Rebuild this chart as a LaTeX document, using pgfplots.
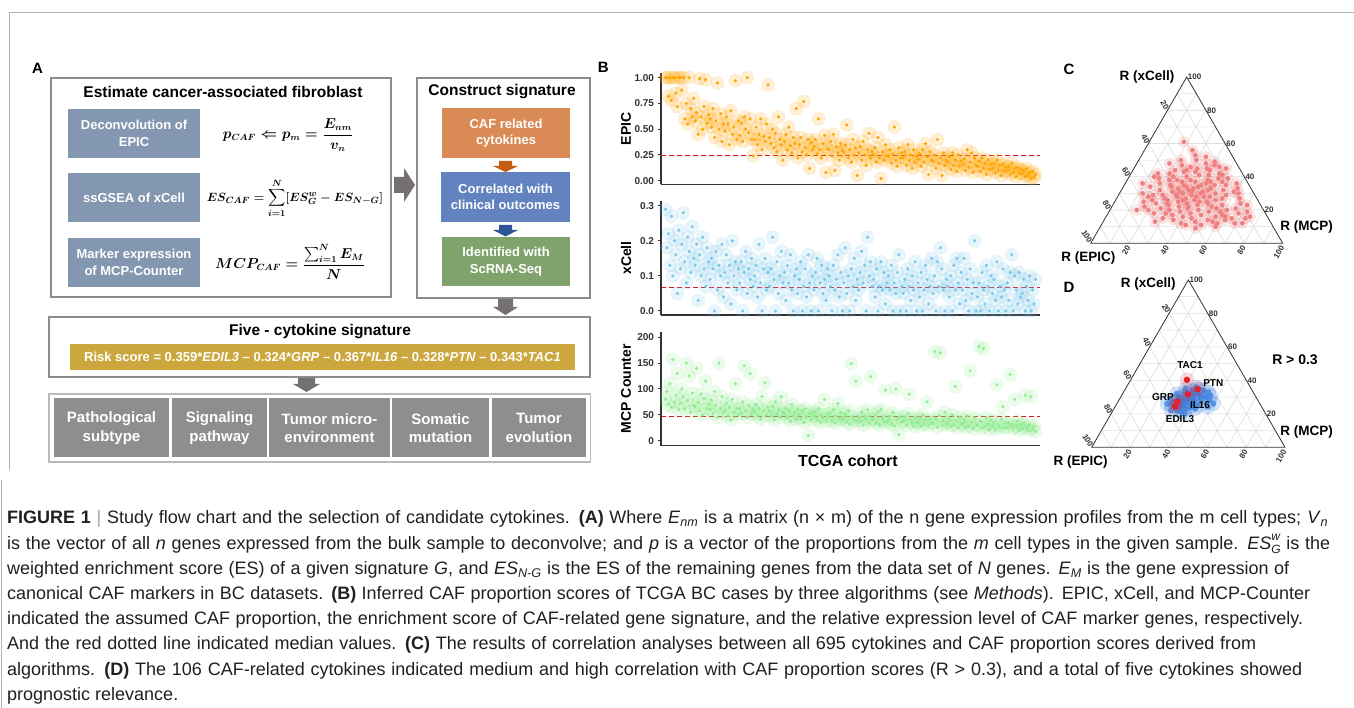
\documentclass[border=0pt]{standalone}
\usepackage{amsmath}
\usepackage{fontspec}
\setmainfont{Liberation Sans}
\usepackage{pgfplots}
\usepackage{pgfplotstable}
\pgfplotsset{compat=1.18}
\newcommand{\fs}[2]{\fontsize{#1}{#2}\selectfont}
\definecolor{axisgray}{RGB}{51,51,51}
\definecolor{boxgray}{RGB}{140,140,140}
\definecolor{slate}{RGB}{132,151,176}
\definecolor{orbox}{RGB}{218,138,85}
\definecolor{orarrow}{RGB}{197,90,17}
\definecolor{blbox}{RGB}{98,131,192}
\definecolor{blarrow}{RGB}{47,85,151}
\definecolor{grbox}{RGB}{127,163,107}
\definecolor{gold}{RGB}{203,167,62}
\definecolor{cellgray}{RGB}{143,141,141}
\definecolor{arrowgray}{RGB}{118,113,113}
\definecolor{epicc}{RGB}{255,165,0}
\definecolor{xcellc}{RGB}{120,200,236}
\definecolor{mcpc}{RGB}{144,238,144}
\definecolor{pinkc}{RGB}{240,128,128}
\definecolor{blued}{RGB}{60,130,225}
\definecolor{redd}{RGB}{232,30,40}
\definecolor{medred}{RGB}{215,25,25}
\definecolor{tgrid}{RGB}{222,222,222}
\definecolor{captxt}{RGB}{35,31,32}

\pgfplotstableread[row sep=\\]{y\\
1\\1\\0.82\\1\\0.78\\1\\1\\0.85\\0.72\\1\\
1\\0.88\\1\\0.6\\0.75\\0.55\\1\\0.7\\0.62\\0.8\\
0.58\\0.66\\0.45\\0.99\\0.62\\0.5\\0.72\\0.98\\0.56\\0.64\\
0.6\\0.52\\0.7\\0.42\\0.58\\0.95\\0.5\\0.65\\0.38\\0.55\\
0.48\\0.62\\0.55\\0.35\\0.68\\0.45\\0.52\\0.97\\0.4\\0.58\\
0.44\\0.56\\0.38\\0.62\\0.5\\1\\0.47\\0.6\\0.4\\0.24\\
0.4\\0.52\\0.35\\0.45\\0.6\\0.3\\0.43\\0.38\\0.55\\0.93\\
0.42\\0.36\\0.5\\0.32\\0.46\\0.28\\0.62\\0.4\\0.35\\0.2\\
0.38\\0.45\\0.3\\0.52\\0.34\\0.27\\0.42\\0.36\\0.7\\0.22\\
0.35\\0.42\\0.28\\0.77\\0.32\\0.25\\0.4\\0.12\\0.37\\0.3\\
0.33\\0.4\\0.26\\0.6\\0.3\\0.22\\0.36\\0.44\\0.08\\0.31\\
0.3\\0.38\\0.24\\0.45\\0.1\\0.33\\0.27\\0.2\\0.36\\0.29\\
0.28\\0.35\\0.54\\0.22\\0.3\\0.18\\0.4\\0.25\\0.32\\0.05\\
0.27\\0.33\\0.2\\0.38\\0.25\\0.15\\0.3\\0.46\\0.22\\0.28\\
0.25\\0.32\\0.18\\0.42\\0.22\\0.02\\0.28\\0.2\\0.35\\0.24\\
0.24\\0.3\\0.17\\0.26\\0.52\\0.2\\0.14\\0.32\\0.22\\0.27\\
0.22\\0.28\\0.15\\0.35\\0.2\\0.25\\0.12\\0.3\\0.18\\0.24\\
0.21\\0.26\\0.14\\0.3\\0.18\\0.36\\0.23\\0.06\\0.28\\0.2\\
0.19\\0.25\\0.12\\0.4\\0.17\\0.22\\0.05\\0.27\\0.15\\0.2\\
0.18\\0.23\\0.11\\0.27\\0.15\\0.2\\0.09\\0.25\\0.14\\0.19\\
0.16\\0.21\\0.1\\0.3\\0.13\\0.18\\0.27\\0.08\\0.22\\0.15\\
0.14\\0.19\\0.09\\0.22\\0.12\\0.17\\0.06\\0.2\\0.11\\0.16\\
0.12\\0.17\\0.08\\0.2\\0.1\\0.15\\0.05\\0.16\\0.09\\0.13\\
0.1\\0.14\\0.06\\0.17\\0.08\\0.12\\0.04\\0.13\\0.07\\0.11\\
0.07\\0.1\\0.04\\0.12\\0.05\\0.08\\0.02\\0.09\\0.03\\0.06\\
}\epicdata

\pgfplotstableread[row sep=\\]{y\\
0.29\\0.18\\0.22\\0.13\\0.27\\0.1\\0.2\\0.16\\0.05\\0.23\\
0.12\\0.19\\0.28\\0.14\\0.08\\0.21\\0.17\\0.11\\0.24\\0.15\\
0.13\\0.19\\0.03\\0.16\\0.1\\0.21\\0.12\\0.07\\0.18\\0.14\\
0.09\\0.15\\0.12\\0.0\\0.17\\0.06\\0.13\\0.1\\0.19\\0.04\\
0.11\\0.16\\0.08\\0.13\\0.02\\0.2\\0.1\\0.14\\0.06\\0.12\\
0.08\\0.14\\0.0\\0.11\\0.17\\0.05\\0.12\\0.09\\0.15\\0.07\\
0.1\\0.13\\0.04\\0.19\\0.08\\0.0\\0.12\\0.15\\0.06\\0.11\\
0.07\\0.12\\0.21\\0.09\\0.0\\0.14\\0.05\\0.1\\0.17\\0.08\\
0.11\\0.03\\0.13\\0.08\\0.16\\0.06\\0.0\\0.1\\0.12\\0.05\\
0.09\\0.14\\0.0\\0.07\\0.12\\0.04\\0.16\\0.08\\0.0\\0.1\\
0.06\\0.11\\0.15\\0.0\\0.08\\0.13\\0.05\\0.09\\0.03\\0.12\\
0.1\\0.07\\0.0\\0.13\\0.06\\0.09\\0.16\\0.04\\0.11\\0.0\\
0.08\\0.18\\0.05\\0.1\\0.0\\0.12\\0.07\\0.15\\0.03\\0.09\\
0.06\\0.11\\0.17\\0.08\\0.13\\0.0\\0.21\\0.1\\0.14\\0.07\\
0.09\\0.04\\0.12\\0.0\\0.07\\0.14\\0.06\\0.11\\0.02\\0.08\\
0.1\\0.06\\0.13\\0.0\\0.08\\0.05\\0.11\\0.16\\0.0\\0.07\\
0.05\\0.09\\0.0\\0.12\\0.07\\0.03\\0.1\\0.06\\0.14\\0.0\\
0.08\\0.04\\0.11\\0.0\\0.06\\0.13\\0.09\\0.02\\0.07\\0.15\\
0.05\\0.1\\0.0\\0.14\\0.07\\0.18\\0.12\\0.06\\0.0\\0.09\\
0.07\\0.04\\0.1\\0.0\\0.13\\0.06\\0.15\\0.08\\0.02\\0.11\\
0.06\\0.15\\0.03\\0.09\\0.0\\0.12\\0.05\\0.08\\0.2\\0.0\\
0.04\\0.08\\0.0\\0.11\\0.06\\0.02\\0.13\\0.07\\0.0\\0.1\\
0.05\\0.09\\0.03\\0.14\\0.0\\0.07\\0.04\\0.12\\0.06\\0.0\\
0.08\\0.03\\0.11\\0.16\\0.0\\0.1\\0.06\\0.02\\0.11\\0.04\\
0.05\\0.09\\0.0\\0.07\\0.03\\0.1\\0.0\\0.06\\0.02\\0.09\\
}\xcelldata

\pgfplotstableread[row sep=\\]{y\\
80\\95\\70\\110\\65\\157\\75\\88\\130\\60\\
72\\100\\85\\62\\150\\78\\125\\55\\92\\68\\
66\\140\\74\\58\\90\\50\\82\\115\\63\\70\\
60\\78\\52\\95\\68\\45\\150\\62\\85\\55\\
58\\72\\48\\65\\40\\80\\55\\110\\62\\50\\
62\\53\\75\\145\\58\\45\\68\\130\\52\\60\\
55\\70\\48\\62\\42\\85\\58\\112\\50\\65\\
57\\48\\66\\40\\75\\52\\60\\45\\85\\55\\
52\\62\\44\\58\\38\\70\\48\\55\\42\\60\\
50\\42\\58\\35\\62\\46\\10\\52\\40\\55\\
48\\56\\40\\62\\36\\50\\45\\80\\38\\52\\
46\\54\\38\\60\\34\\48\\72\\42\\55\\40\\
44\\52\\36\\58\\32\\149\\46\\40\\115\\38\\
45\\38\\55\\30\\48\\42\\60\\35\\124\\40\\
42\\50\\34\\56\\30\\60\\44\\38\\98\\36\\
40\\48\\32\\54\\28\\100\\42\\12\\46\\36\\
38\\46\\30\\52\\90\\40\\34\\28\\44\\36\\
36\\44\\28\\50\\32\\40\\75\\30\\42\\35\\
34\\172\\42\\26\\48\\170\\30\\38\\55\\32\\
35\\42\\28\\50\\30\\105\\38\\25\\45\\32\\
33\\40\\26\\48\\28\\135\\36\\24\\44\\30\\
30\\182\\38\\24\\178\\28\\44\\32\\22\\40\\
28\\36\\22\\108\\30\\26\\42\\66\\25\\34\\
26\\34\\128\\30\\24\\80\\28\\38\\20\\32\\
24\\32\\88\\26\\20\\30\\85\\22\\28\\18\\
}\mcpdata

% ternary data: xc = R(xCell) share, mc = R(MCP) share (EPIC = 100 - xc - mc)
\pgfplotstableread[row sep=\\]{xc mc\\
61 18\\56 25\\48 17\\52 34\\50 30\\47 24\\45 38\\44 28\\46 44\\42 20\\
36 9\\20 14\\15 73\\15 66\\11 44\\11 52\\31 59\\37 50\\40 13\\38 22\\
43 33\\41 41\\40 30\\39 47\\38 26\\37 36\\36 42\\36 18\\35 31\\35 53\\
34 25\\34 39\\33 46\\33 29\\32 35\\32 20\\31 43\\31 27\\30 50\\30 33\\
29 38\\29 23\\28 45\\28 31\\27 36\\27 55\\26 27\\26 41\\25 33\\25 48\\
24 22\\24 38\\23 44\\23 29\\22 52\\22 35\\21 40\\21 26\\20 46\\20 31\\
19 37\\19 58\\18 43\\18 24\\17 49\\17 34\\16 40\\16 62\\15 30\\15 45\\
14 54\\14 36\\13 48\\13 27\\12 41\\12 60\\20 20\\22 17\\18 30\\25 15\\
28 16\\30 12\\24 28\\26 19\\34 14\\29 18\\32 45\\35 47\\38 42\\41 36\\
43 27\\45 33\\42 46\\39 52\\36 58\\33 60\\30 62\\27 64\\24 66\\21 65\\
18 68\\16 57\\19 52\\23 57\\26 52\\29 56\\32 53\\35 40\\38 33\\40 23\\
44 22\\46 29\\48 36\\47 41\\50 22\\53 28\\49 40\\37 29\\34 33\\31 37\\
28 41\\25 44\\22 40\\27 25\\31 31\\35 24\\33 37\\29 30\\26 35\\24 49\\
21 55\\17 60\\14 63\\12 69\\10 60\\13 57\\9 50\\20 61\\23 70\\19 72\\
16 75\\12 73\\28 48\\30 42\\39 16\\42 14\\44 40\\37 44\\41 48\\45 48\\
}\terndataC

\pgfplotstableread[row sep=\\]{xc mc\\
30 30\\28 34\\32 28\\26 32\\34 35\\29 38\\25 29\\31 41\\27 36\\33 32\\
24 34\\30 44\\28 27\\35 38\\22 33\\26 40\\32 36\\29 31\\23 37\\31 46\\
27 29\\34 41\\25 43\\21 36\\28 47\\33 44\\30 35\\26 26\\36 36\\24 39\\
22 30\\29 42\\32 39\\27 33\\25 35\\35 31\\23 42\\31 33\\28 39\\20 38\\
26 50\\24 48\\
}\terndataD

\pgfplotstableread[row sep=\\]{xc mc\\
40.3 29.1\\34.7 37.4\\31.7 33.9\\27.3 30.7\\24.3 31.0\\
}\terndataDred

\pgfplotsset{
  bscat/.style={scale only axis, width=379pt, anchor=south west,
    xmin=-3, xmax=252, axis x line*=bottom, axis y line*=left,
    xtick=\empty, axis line style={line width=1.3pt, draw=axisgray, -},
    tick align=outside, major tick length=3.5pt,
    ytick style={draw=axisgray, line width=1pt},
    yticklabel style={font=\bfseries\fs{10}{12}, text=axisgray},
    /pgf/number format/assume math mode=true,
    ylabel style={font=\bfseries\fs{14}{16}, at={(axis description cs:-0.092,0.5)}, anchor=center}},
  tern/.style={scale only axis, anchor=south west, xmin=0, xmax=100, ymin=0, ymax=86.6025, axis lines=none, clip=false}
}
\tikzset{tl/.style={font=\bfseries\fs{8}{9}, inner sep=1pt, text=axisgray}}

\newcommand{\terngrid}{%
  \draw[tgrid, line width=0.6pt]
   (axis cs:5,8.66)--(axis cs:95,8.66) (axis cs:10,17.32)--(axis cs:90,17.32)
   (axis cs:15,25.98)--(axis cs:85,25.98) (axis cs:20,34.64)--(axis cs:80,34.64)
   (axis cs:25,43.30)--(axis cs:75,43.30) (axis cs:30,51.96)--(axis cs:70,51.96)
   (axis cs:35,60.62)--(axis cs:65,60.62) (axis cs:40,69.28)--(axis cs:60,69.28)
   (axis cs:45,77.94)--(axis cs:55,77.94)
   (axis cs:10,0)--(axis cs:55,77.94) (axis cs:20,0)--(axis cs:60,69.28)
   (axis cs:30,0)--(axis cs:65,60.62) (axis cs:40,0)--(axis cs:70,51.96)
   (axis cs:50,0)--(axis cs:75,43.30) (axis cs:60,0)--(axis cs:80,34.64)
   (axis cs:70,0)--(axis cs:85,25.98) (axis cs:80,0)--(axis cs:90,17.32)
   (axis cs:90,0)--(axis cs:95,8.66)
   (axis cs:90,0)--(axis cs:45,77.94) (axis cs:80,0)--(axis cs:40,69.28)
   (axis cs:70,0)--(axis cs:35,60.62) (axis cs:60,0)--(axis cs:30,51.96)
   (axis cs:50,0)--(axis cs:25,43.30) (axis cs:40,0)--(axis cs:20,34.64)
   (axis cs:30,0)--(axis cs:15,25.98) (axis cs:20,0)--(axis cs:10,17.32)
   (axis cs:10,0)--(axis cs:5,8.66);
  \draw[axisgray, line width=0.8pt] (axis cs:0,0)--(axis cs:100,0)--(axis cs:50,86.6025)--cycle;
  \node[tl, anchor=west] at (axis cs:90,17.32) {20};
  \node[tl, anchor=west] at (axis cs:80,34.64) {40};
  \node[tl, anchor=west] at (axis cs:70,51.96) {60};
  \node[tl, anchor=west] at (axis cs:60,69.28) {80};
  \node[tl, anchor=west] at (axis cs:50,86.60) {100};
  \node[tl, anchor=east, rotate=-60] at (axis cs:40,69.28) {20};
  \node[tl, anchor=east, rotate=-60] at (axis cs:30,51.96) {40};
  \node[tl, anchor=east, rotate=-60] at (axis cs:20,34.64) {60};
  \node[tl, anchor=east, rotate=-60] at (axis cs:10,17.32) {80};
  \node[tl, anchor=east, rotate=-60] at (axis cs:0,0) {100};
  \node[tl, anchor=east, rotate=60] at (axis cs:20,-1) {20};
  \node[tl, anchor=east, rotate=60] at (axis cs:40,-1) {40};
  \node[tl, anchor=east, rotate=60] at (axis cs:60,-1) {60};
  \node[tl, anchor=east, rotate=60] at (axis cs:80,-1) {80};
  \node[tl, anchor=east, rotate=60] at (axis cs:100,-1) {100};
}

\newsavebox{\fmA}
\newsavebox{\fmB}
\newsavebox{\fmC}

\begin{document}%
\sbox{\fmA}{\fs{13.5}{16}\mathversion{bold}$p_{CAF}\Leftarrow p_m=\dfrac{E_{nm}}{v_n}$}%
\sbox{\fmB}{\fs{12.8}{16}\mathversion{bold}$ES_{CAF}=\displaystyle\sum_{i=1}^{N}[ES_G^w-ES_{N-G}]$}%
\sbox{\fmC}{\fs{13.5}{16}\mathversion{bold}$MCP_{CAF}=\dfrac{\sum_{i=1}^{N}E_M}{N}$}%
\begin{tikzpicture}[x=1pt,y=1pt]
\useasboundingbox (0,0) rectangle (1354,708);
\fill[white] (0,0) rectangle (1354,708);

\begin{scope}[shift={(0,708)},yscale=-1]
% frame lines
\draw[gray!60, line width=0.8pt] (9,12) -- (1354,12);
\draw[gray!60, line width=0.8pt] (9,12) -- (9,470);
\draw[gray!60, line width=0.8pt] (1.2,480) -- (1.2,708);
% panel letters
\node[font=\bfseries\fs{15}{18}] at (37.5,68.7) {A};
\node[font=\bfseries\fs{15}{18}] at (603.3,67.5) {B};
\node[font=\bfseries\fs{15}{18}] at (1069,69) {C};
\node[font=\bfseries\fs{15}{18}] at (1069,287.7) {D};
% box 1
\draw[boxgray, line width=1.6pt] (51,78) rectangle (391,297);
\node[font=\bfseries\fs{15.5}{18}] at (223,92) {Estimate cancer-associated fibroblast};
\fill[slate] (68,109) rectangle (200,158);
\fill[slate] (68,173) rectangle (200,222);
\fill[slate] (68,238) rectangle (200,287);
\node[text=white, font=\bfseries\fs{13}{17}, align=center] at (134,133.5) {Deconvolution of\\EPIC};
\node[text=white, font=\bfseries\fs{13}{17}, align=center] at (134,197.5) {ssGSEA of xCell};
\node[text=white, font=\bfseries\fs{13}{17}, align=center] at (134,262.5) {Marker expression\\of MCP-Counter};
\node[inner sep=0pt] at (288,135) {\usebox{\fmA}};
\node[inner sep=0pt] at (295,198) {\usebox{\fmB}};
\node[inner sep=0pt] at (290,262) {\usebox{\fmC}};
% right arrow
\fill[arrowgray] (394,177) -- (404,177) -- (404,168) -- (415,185) -- (404,202) -- (404,193) -- (394,193) -- cycle;
% box 2
\draw[boxgray, line width=1.6pt] (417,78) rectangle (590,298);
\node[font=\bfseries\fs{15.5}{18}] at (502,92) {Construct signature};
\fill[orbox] (442,108) rectangle (570,158);
\node[text=white, font=\bfseries\fs{13}{16.5}, align=center] at (506,133) {CAF related\\cytokines};
\fill[orarrow] (499,161) -- (512,161) -- (512,166) -- (518,166) -- (505.5,172) -- (493,166) -- (499,166) -- cycle;
\fill[blbox] (441,172) rectangle (570,222);
\node[text=white, font=\bfseries\fs{13}{16.5}, align=center] at (505.5,197) {Correlated with\\clinical outcomes};
\fill[blarrow] (499,225) -- (512,225) -- (512,230) -- (518,230) -- (505.5,236.5) -- (493,230) -- (499,230) -- cycle;
\fill[grbox] (442,237) rectangle (570,286);
\node[text=white, font=\bfseries\fs{13}{16.5}, align=center] at (506,261.5) {Identified with\\ScRNA-Seq};
% down arrow
\fill[arrowgray] (498,299) -- (513,299) -- (513,307) -- (518,307) -- (505.5,315) -- (493,307) -- (498,307) -- cycle;
% five cytokine box
\draw[boxgray, line width=1.6pt] (49,317) rectangle (590,377);
\node[font=\bfseries\fs{15.5}{18}] at (320,331.5) {Five - cytokine signature};
\fill[gold] (70,344) rectangle (575,370);
\node[text=white, font=\bfseries\fs{13}{15}] at (322.5,357) {Risk score = 0.359*\textit{EDIL3} – 0.324*\textit{GRP} – 0.367*\textit{IL16} – 0.328*\textit{PTN} – 0.343*\textit{TAC1}};
\fill[arrowgray] (298,378) -- (315,378) -- (315,384) -- (320,384) -- (306.5,392) -- (293,384) -- (298,384) -- cycle;
% bottom row
\draw[gray!55, line width=1.4pt] (49,394) rectangle (590.5,462);
\fill[cellgray] (54,398) rectangle (169,457);
\fill[cellgray] (172,398) rectangle (267,457);
\fill[cellgray] (269,398) rectangle (390,457);
\fill[cellgray] (392,398) rectangle (489,457);
\fill[cellgray] (492,398) rectangle (586,457);
\node[text=white, font=\bfseries\fs{15}{18.3}, align=center] at (111.5,428) {Pathological\\subtype};
\node[text=white, font=\bfseries\fs{15}{18.3}, align=center] at (219.5,428) {Signaling\\pathway};
\node[text=white, font=\bfseries\fs{15}{18.3}, align=center] at (329.5,428) {Tumor micro-\\environment};
\node[text=white, font=\bfseries\fs{15}{18.3}, align=center] at (440.5,428) {Somatic\\mutation};
\node[text=white, font=\bfseries\fs{15}{18.3}, align=center] at (539,428) {Tumor\\evolution};
% labels for ternary plots
\node[font=\bfseries\fs{13.5}{16}] at (1147,76.7) {R (xCell)};
\node[font=\bfseries\fs{13.5}{16}] at (1306.7,226.7) {R (MCP)};
\node[font=\bfseries\fs{13.5}{16}] at (1088.3,258.3) {R (EPIC)};
\node[font=\bfseries\fs{13.5}{16}] at (1148.3,284) {R (xCell)};
\node[font=\bfseries\fs{13.5}{16}] at (1306.7,431.7) {R (MCP)};
\node[font=\bfseries\fs{13.5}{16}] at (1080.7,462.3) {R (EPIC)};
\node[font=\bfseries\fs{14}{16}] at (1295,360) {R > 0.3};
% caption
\begin{scope}[every node/.style={anchor=base west, inner sep=0pt, text=captxt, font=\fs{18}{21}}]
\node at (7,524) {\hbox to 1321pt{\textbf{FIGURE 1} {\color{gray!70}|} Study flow chart and the selection of candidate cytokines. \textbf{(A)} Where \textit{E}\textsubscript{\textit{nm}} is a matrix (n × m) of the n gene expression profiles from the m cell types; \textit{V}\textsubscript{\textit{n}}}};
\node at (7,549.2) {\hbox to 1323pt{is the vector of all \textit{n} genes expressed from the bulk sample to deconvolve; and \textit{p} is a vector of the proportions from the \textit{m} cell types in the given sample. \textit{ES}\makebox[0pt][l]{\raisebox{0.9ex}{\fs{12}{12}\textit{w}}}\raisebox{-0.45ex}{\fs{12}{12}\textit{G}} is the}};
\node at (7,574.4) {\hbox to 1282pt{weighted enrichment score (ES) of a given signature \textit{G}, and \textit{ES}\textsubscript{\textit{N-G}} is the ES of the remaining genes from the data set of \textit{N} genes. \textit{E}\textsubscript{\textit{M}} is the gene expression of}};
\node at (7,599.6) {\hbox to 1303pt{canonical CAF markers in BC datasets. \textbf{(B)} Inferred CAF proportion scores of TCGA BC cases by three algorithms (see \textit{Methods}). EPIC, xCell, and MCP-Counter}};
\node at (7,624.8) {\hbox to 1296pt{indicated the assumed CAF proportion, the enrichment score of CAF-related gene signature, and the relative expression level of CAF marker genes, respectively.}};
\node at (7,650) {\hbox to 1249pt{And the red dotted line indicated median values. \textbf{(C)} The results of correlation analyses between all 695 cytokines and CAF proportion scores derived from}};
\node at (7,675.2) {\hbox to 1295pt{algorithms. \textbf{(D)} The 106 CAF-related cytokines indicated medium and high correlation with CAF proportion scores (R > 0.3), and a total of five cytokines showed}};
\node at (7,700.4) {prognostic relevance.};
\end{scope}
\end{scope}

% ---------- panel B ----------
\begin{axis}[bscat, at={(661pt,523.7pt)}, height=111.2pt, ymin=-0.035, ymax=1.045,
  ytick={0,0.25,0.5,0.75,1}, ylabel={EPIC},
  yticklabel style={/pgf/number format/fixed, /pgf/number format/fixed zerofill, /pgf/number format/precision=2}]
\addplot[only marks, mark=*, mark size=6.5pt, color=epicc, opacity=0.17] table[x expr=\coordindex, y=y] \epicdata;
\addplot[only marks, mark=*, mark size=1.4pt, color=epicc] table[x expr=\coordindex, y=y] \epicdata;
\addplot[medred, line width=1pt, dash pattern=on 5pt off 3pt] coordinates {(-3,0.24) (252,0.24)};
\end{axis}

\begin{axis}[bscat, at={(661pt,393pt)}, height=114pt, ymin=-0.0114, ymax=0.3134,
  ytick={0,0.1,0.2,0.3}, ylabel={xCell},
  yticklabel style={/pgf/number format/fixed, /pgf/number format/fixed zerofill, /pgf/number format/precision=1}]
\addplot[only marks, mark=*, mark size=6.5pt, color=xcellc, opacity=0.17] table[x expr=\coordindex, y=y] \xcelldata;
\addplot[only marks, mark=*, mark size=1.4pt, color=xcellc] table[x expr=\coordindex, y=y] \xcelldata;
\addplot[medred, line width=1pt, dash pattern=on 5pt off 3pt] coordinates {(-3,0.0675) (252,0.0675)};
\end{axis}

\begin{axis}[bscat, at={(661pt,262.3pt)}, height=114pt, ymin=-9.7, ymax=210.8,
  ytick={0,50,100,150,200}, ylabel={MCP Counter},
  xlabel={TCGA cohort}, xlabel style={font=\bfseries\fs{16}{18}, at={(axis description cs:0.493,-0.13)}, anchor=center}]
\addplot[only marks, mark=*, mark size=6.5pt, color=mcpc, opacity=0.17] table[x expr=\coordindex, y=y] \mcpdata;
\addplot[only marks, mark=*, mark size=1.4pt, color=mcpc] table[x expr=\coordindex, y=y] \mcpdata;
\addplot[medred, line width=1pt, dash pattern=on 5pt off 3pt] coordinates {(-3,45.8) (252,45.8)};
\end{axis}

% ---------- panel C ----------
\begin{axis}[tern, at={(1090.7pt,464.7pt)}, width=192pt, height=166.28pt]
\terngrid
\addplot[only marks, mark=*, mark size=5.5pt, color=pinkc, opacity=0.18]
  table[x expr={\thisrow{mc}+0.5*\thisrow{xc}}, y expr={0.8660254*\thisrow{xc}}] \terndataC;
\addplot[only marks, mark=*, mark size=2.1pt, color=pinkc]
  table[x expr={\thisrow{mc}+0.5*\thisrow{xc}}, y expr={0.8660254*\thisrow{xc}}] \terndataC;
\end{axis}

% ---------- panel D ----------
\begin{axis}[tern, at={(1091.7pt,260.7pt)}, width=193.3pt, height=167.4pt]
\terngrid
\addplot[only marks, mark=*, mark size=7pt, color=blued, opacity=0.2]
  table[x expr={\thisrow{mc}+0.5*\thisrow{xc}}, y expr={0.8660254*\thisrow{xc}}] \terndataD;
\addplot[only marks, mark=*, mark size=2.6pt, color=blued, opacity=0.7]
  table[x expr={\thisrow{mc}+0.5*\thisrow{xc}}, y expr={0.8660254*\thisrow{xc}}] \terndataD;
\addplot[only marks, mark=*, mark size=7pt, color=redd, opacity=0.15]
  table[x expr={\thisrow{mc}+0.5*\thisrow{xc}}, y expr={0.8660254*\thisrow{xc}}] \terndataDred;
\addplot[only marks, mark=*, mark size=3pt, color=redd]
  table[x expr={\thisrow{mc}+0.5*\thisrow{xc}}, y expr={0.8660254*\thisrow{xc}}] \terndataDred;
\end{axis}

% gene labels of panel D, on top of the points
\begin{scope}[shift={(0,708)},yscale=-1]
\node[font=\bfseries\fs{10}{12}] at (1190,365) {TAC1};
\node[font=\bfseries\fs{10}{12}] at (1213.3,382.7) {PTN};
\node[font=\bfseries\fs{10}{12}] at (1163,396.7) {GRP};
\node[font=\bfseries\fs{10}{12}] at (1200,405) {IL16};
\node[font=\bfseries\fs{10}{12}] at (1180,419) {EDIL3};
\end{scope}
\end{tikzpicture}%
\end{document}
